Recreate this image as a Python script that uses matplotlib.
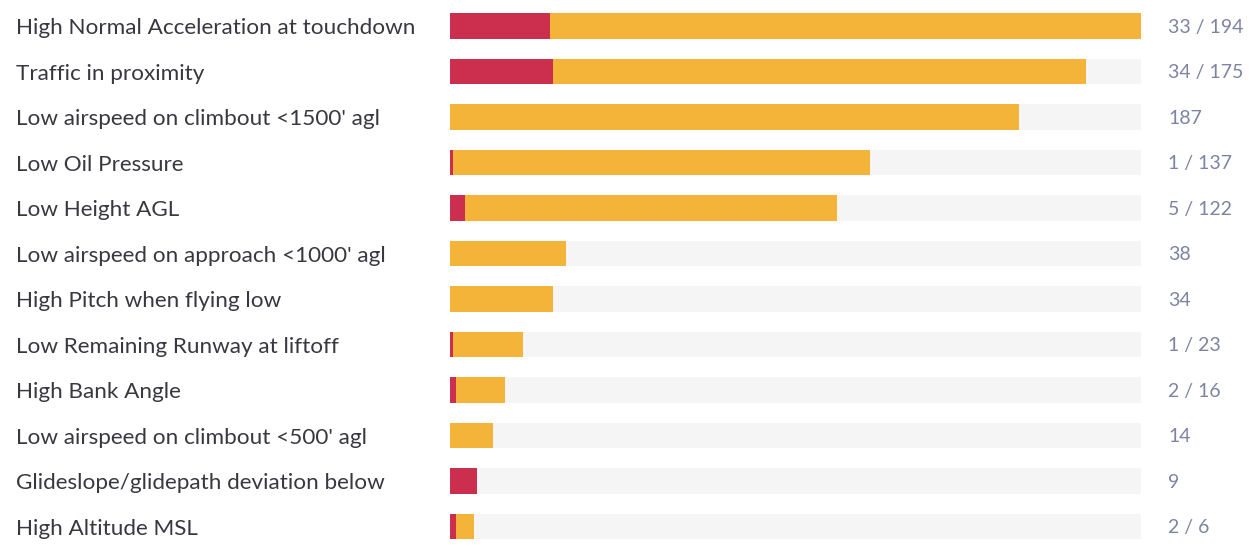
import matplotlib
matplotlib.use("Agg")
import matplotlib.pyplot as plt

categories = [
    "High Normal Acceleration at touchdown",
    "Traffic in proximity",
    "Low airspeed on climbout <1500' agl",
    "Low Oil Pressure",
    "Low Height AGL",
    "Low airspeed on approach <1000' agl",
    "High Pitch when flying low",
    "Low Remaining Runway at liftoff",
    "High Bank Angle",
    "Low airspeed on climbout <500' agl",
    "Glideslope/glidepath deviation below",
    "High Altitude MSL",
]
red_values = [33, 34, 0, 1, 5, 0, 0, 1, 2, 0, 9, 2]
orange_values = [194, 175, 187, 137, 122, 38, 34, 23, 16, 14, 0, 6]

RED = "#CC2E4E"
ORANGE = "#F4B43A"
TRACK = "#F5F5F5"
LABEL = "#383840"
VALUE = "#7D84A3"

plt.rcParams['font.family'] = ['Lato', 'DejaVu Sans']

fig = plt.figure(figsize=(12.57, 5.5), dpi=100)
ax = fig.add_axes([450/1257, 0, 691/1257, 1])

totals = [r + o for r, o in zip(red_values, orange_values)]
maxv = max(totals)
n = len(categories)
ys = list(range(n))
h = 0.57

ax.barh(ys, [maxv]*n, height=h, color=TRACK, left=0)
ax.barh(ys, red_values, height=h, color=RED, left=0)
ax.barh(ys, orange_values, height=h, color=ORANGE, left=red_values)

ax.set_xlim(0, maxv)
ax.set_ylim(11.516, -0.571)
ax.axis('off')

for i, (cat, r, o) in enumerate(zip(categories, red_values, orange_values)):
    ax.annotate(cat, xy=(0, i), xycoords='data', xytext=(16/1257, -1.5), textcoords=('figure fraction', 'offset points'),
                va='center', ha='left', fontsize=16.2, color=LABEL)
    if r and o:
        s = f"{r} / {o}"
    elif r:
        s = f"{r}"
    else:
        s = f"{o}"
    ax.annotate(s, xy=(maxv, i), xycoords='data', xytext=(27*0.72, -1), textcoords='offset points',
                va='center', ha='left', fontsize=14, color=VALUE)

fig.savefig("out.png", dpi=100)
